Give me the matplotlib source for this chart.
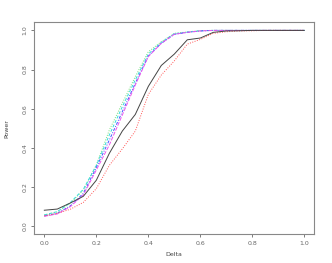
import numpy as np
import matplotlib
matplotlib.use('Agg')
import matplotlib.pyplot as plt

delta = [0.0, 0.05, 0.1, 0.15, 0.2, 0.25, 0.3, 0.35, 0.4, 0.45, 0.5,
         0.55, 0.6, 0.65, 0.7, 0.75, 0.8, 0.85, 0.9, 0.95, 1.0]

black = [0.082, 0.088, 0.119, 0.153, 0.235, 0.372, 0.486, 0.571, 0.714, 0.821, 0.879,
         0.952, 0.961, 0.990, 0.997, 0.998, 1.0, 1.0, 1.0, 1.0, 1.0]
red = [0.053, 0.066, 0.087, 0.122, 0.192, 0.311, 0.395, 0.486, 0.673, 0.772, 0.844,
       0.930, 0.954, 0.985, 0.993, 0.997, 0.998, 1.0, 1.0, 1.0, 1.0]
green = [0.058, 0.073, 0.117, 0.185, 0.313, 0.491, 0.628, 0.764, 0.891, 0.942, 0.985,
         0.992, 0.999, 1.0, 1.0, 1.0, 1.0, 1.0, 1.0, 1.0, 1.0]
blue = [0.053, 0.066, 0.104, 0.168, 0.300, 0.440, 0.585, 0.730, 0.869, 0.934, 0.980,
        0.990, 0.997, 1.0, 1.0, 1.0, 1.0, 1.0, 1.0, 1.0, 1.0]
cyan = [0.058, 0.075, 0.121, 0.189, 0.310, 0.466, 0.610, 0.747, 0.879, 0.939, 0.983,
        0.991, 0.998, 1.0, 1.0, 1.0, 1.0, 1.0, 1.0, 1.0, 1.0]
magenta = [0.051, 0.063, 0.100, 0.160, 0.287, 0.415, 0.568, 0.721, 0.866, 0.934, 0.980,
           0.990, 0.997, 1.0, 1.0, 1.0, 1.0, 1.0, 1.0, 1.0, 1.0]

xticks = [0.0, 0.2, 0.4, 0.6, 0.8, 1.0]
yticks = [0.0, 0.2, 0.4, 0.6, 0.8, 1.0]

plt.rc('font', size=4.5)
fig = plt.figure(figsize=(3.32, 2.63), dpi=100)
ax = fig.add_axes([0.1033, 0.109, 0.8434, 0.806])

ax.plot(delta, green, color='#77e077', linestyle=(0, (1, 1.5)), lw=0.7)
ax.plot(delta, cyan, color='#33dddd', linestyle=(0, (3, 2)), lw=0.7)
ax.plot(delta, blue, color='#4455ff', linestyle=(0, (3, 1.5, 1, 1.5)), lw=0.7)
ax.plot(delta, magenta, color='#ee55ee', linestyle=(0, (4, 1.5)), lw=0.7)
ax.plot(delta, red, color='#ff5555', linestyle=(0, (1, 1.5)), lw=0.7)
ax.plot(delta, black, color='#444444', linestyle='-', lw=0.7)

ax.set_xlim(-0.0385, 1.0385)
ax.set_ylim(-0.041, 1.041)
ax.set_xticks(xticks)
ax.set_xticklabels(['%.1f' % v for v in xticks])
ax.set_yticks(yticks)
ax.set_yticklabels(['%.1f' % v for v in yticks], rotation=90, va='center')

for s in ax.spines.values():
    s.set_color('#888888')
    s.set_linewidth(0.8)
ax.tick_params(colors='#666666', length=2.5, width=0.6, pad=2.5)

ax.set_xlabel('Delta', labelpad=4, color='#444444')
ax.set_ylabel('Power', labelpad=9, color='#444444')

fig.savefig('out.png', dpi=100)
